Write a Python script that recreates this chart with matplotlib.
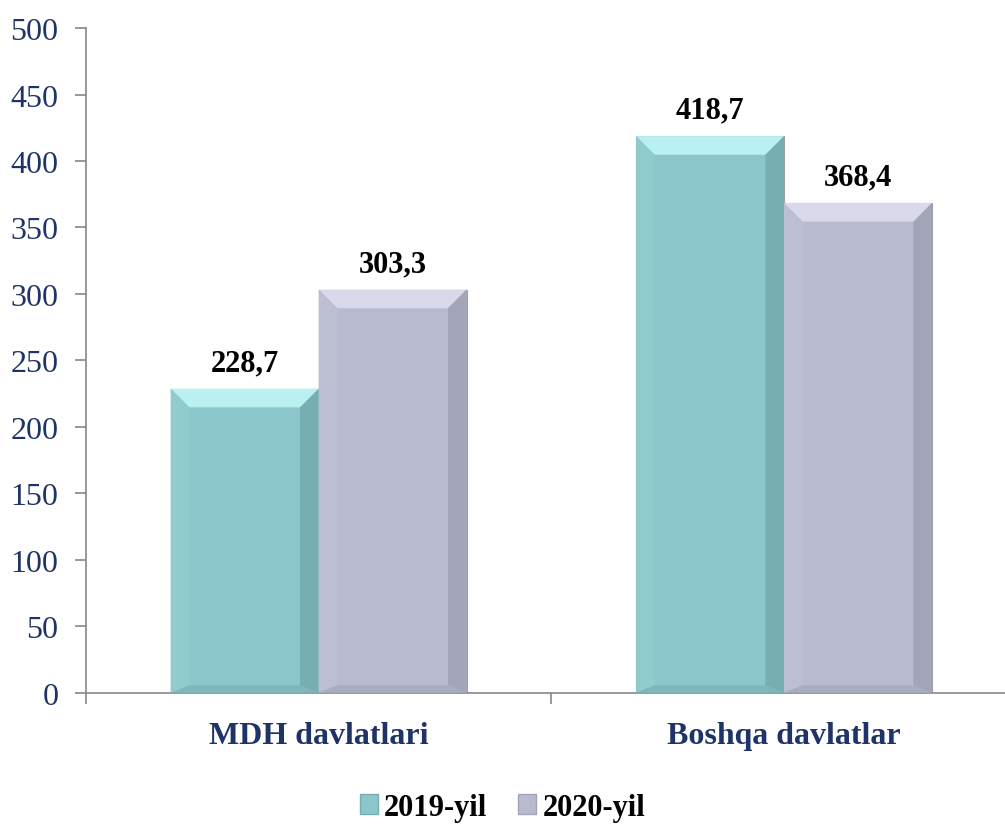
import numpy as np
import matplotlib.pyplot as plt
from matplotlib.patches import Polygon, Patch

categories = ['MDH davlatlari', 'Boshqa davlatlar']
series = ['2019-yil', '2020-yil']
v2019 = [228.7, 418.7]
v2020 = [303.3, 368.4]
labels2019 = ['228,7', '418,7']
labels2020 = ['303,3', '368,4']

face = ['#8ac6ca', '#b8bacf']
top_col = ['#b9f1f3', '#d8daec']
side_col = ['#76aeb2', '#a2a4b8']
left_col = ['#90cbce', '#bcbed3']
bot_col = ['#7fb6b9', '#a9abbe']

plt.rcParams['font.family'] = ['Liberation Serif', 'DejaVu Serif']
navy = '#1f3466'

fig = plt.figure(figsize=(10.05, 8.29), dpi=100)
ax = fig.add_axes([0.0856, 0.163, 0.926, 0.802])

x = np.arange(len(categories))
w = 0.318
bx = 0.04    # bevel in data x
by = 14.0    # bevel in data y


def bevel(ax, x0, h, k):
	x1 = x0 + w
	# top
	ax.add_patch(Polygon([[x0, h], [x1, h], [x1-bx, h-by], [x0+bx, h-by]], closed=True, fc=top_col[k], ec='none', zorder=3))
	# right side
	ax.add_patch(Polygon([[x1, h], [x1, 0], [x1-bx, by*0.4], [x1-bx, h-by]], closed=True, fc=side_col[k], ec='none', zorder=3))
	# left side
	ax.add_patch(Polygon([[x0, h], [x0, 0], [x0+bx, by*0.4], [x0+bx, h-by]], closed=True, fc=left_col[k], ec='none', zorder=3))
	# bottom
	ax.add_patch(Polygon([[x0, 0], [x1, 0], [x1-bx, by*0.4], [x0+bx, by*0.4]], closed=True, fc=bot_col[k], ec='none', zorder=3))


for k, vals, labs in [(0, v2019, labels2019), (1, v2020, labels2020)]:
	xs = x - w + k*w
	bars = ax.bar(xs, vals, width=w, align='edge', color=face[k], edgecolor='#a0a0a0', linewidth=0.8, zorder=2)
	for xi, h, lab in zip(xs, vals, labs):
		bevel(ax, xi, h, k)
		ax.text(xi + w/2, h + 14, lab, ha='center', va='baseline', fontsize=22, fontweight='bold', color='black')

ax.set_xlim(-0.5, 1.5)
ax.set_ylim(0, 500)
ax.set_yticks(np.arange(0, 501, 50))
ax.tick_params(axis='y', labelsize=23, labelcolor=navy, color='#888888', length=8, width=1.2, pad=12)
ax.set_xticks([-0.5, 0.5, 1.5])
ax.set_xticklabels([])
ax.tick_params(axis='x', color='#888888', length=8, width=1.2, direction='out')
ax.set_xticks(x, minor=True)
ax.set_xticklabels(categories, minor=True)
ax.tick_params(axis='x', which='minor', length=0, labelsize=23, labelcolor=navy, pad=20)
for t in ax.get_xticklabels(minor=True):
	t.set_fontweight('bold')

for s in ['top', 'right']:
	ax.spines[s].set_visible(False)
ax.spines['left'].set_color('#888888')
ax.spines['bottom'].set_color('#888888')
ax.spines['left'].set_linewidth(1.2)
ax.spines['bottom'].set_linewidth(1.2)

handles = [Patch(fc=face[0], ec=side_col[0]), Patch(fc=face[1], ec=side_col[1])]
fig.legend(handles, series, loc='center', bbox_to_anchor=(0.5, 0.025), ncol=2, frameon=False,
	prop={'size': 22, 'weight': 'bold'}, handlelength=0.6, handleheight=0.6, handletextpad=0.2, columnspacing=1.0)

fig.savefig('out.png', dpi=100)
